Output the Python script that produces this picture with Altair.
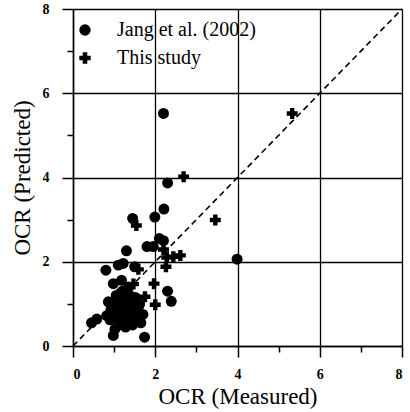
import altair as alt
import pandas as pd

series_names = ["Jang et al. (2002)", "This study"]

jang_x = [0.45, 0.58, 0.80, 0.82, 0.86, 0.90, 0.95, 0.98, 0.98, 1.00, 1.02, 1.05, 1.08, 1.10, 1.10,
          1.12, 1.15, 1.18, 1.20, 1.20, 1.22, 1.25, 1.25, 1.28, 1.30, 1.30, 1.32, 1.35, 1.35, 1.38,
          1.40, 1.42, 1.45, 1.45, 1.48, 1.50, 1.52, 1.55, 1.58, 1.62, 1.65, 1.70, 1.74, 1.80, 1.95,
          1.99, 2.10, 2.20, 2.20, 2.21, 2.30, 2.30, 2.39, 3.99, 1.60, 1.38, 1.15, 0.92]
jang_y = [0.55, 0.64, 1.80, 0.72, 1.05, 0.62, 1.00, 0.25, 1.48, 0.85, 0.40, 1.20, 0.70, 1.92, 1.05,
          0.50, 0.90, 1.56, 1.30, 0.65, 1.96, 1.10, 0.80, 0.45, 2.26, 1.00, 0.60, 1.40, 0.85, 1.20,
          0.70, 1.05, 3.03, 0.50, 0.90, 1.88, 1.15, 0.62, 0.80, 1.00, 0.55, 0.75, 0.21, 2.36, 2.36,
          3.06, 2.55, 2.50, 5.52, 3.25, 3.87, 1.30, 1.06, 2.06, 0.95, 0.98, 1.25, 0.85]

study_x = [5.33, 2.69, 3.46, 1.54, 2.20, 2.28, 2.44, 2.61, 2.26, 1.97, 2.00, 1.75, 1.47, 1.59]
study_y = [5.52, 4.02, 2.99, 2.86, 2.29, 2.10, 2.12, 2.15, 1.88, 1.48, 0.98, 1.17, 1.47, 1.82]

line_x = [0, 8]
line_y = [0, 8]

df = pd.DataFrame({
    "x": jang_x + study_x,
    "y": jang_y + study_y,
    "series": [series_names[0]] * len(jang_x) + [series_names[1]] * len(study_x),
})
df_line = pd.DataFrame({"x": line_x, "y": line_y})

FONT = "Liberation Serif"
even = "datum.value % 2 === 0"

def make_axis(title, label_pad, title_pad):
    return alt.Axis(
        values=list(range(0, 9)), title=title,
        labelExpr=f"{even} ? datum.label : ''",
        grid=True, gridColor="black", gridWidth=1.3,
        gridOpacity={"condition": {"test": even, "value": 1}, "value": 0},
        tickSize={"condition": {"test": even, "value": 11}, "value": 6},
        tickColor="black", tickWidth=1.5, domainColor="black", domainWidth=1.5,
        labelFont=FONT, labelFontSize=14, labelFontWeight="bold", labelColor="black",
        labelPadding=label_pad, titleFont=FONT, titleFontSize=23, titleFontWeight="normal",
        titleColor="black", titlePadding=title_pad,
    )

xs = alt.Scale(domain=[0, 8], nice=False, zero=False)
ys = alt.Scale(domain=[0, 8], nice=False, zero=False)

line = alt.Chart(df_line).mark_line(color="black", strokeWidth=1.6, strokeDash=[6, 4]).encode(
    x=alt.X("x:Q", scale=xs, axis=make_axis("OCR (Measured)", 10, 4)),
    y=alt.Y("y:Q", scale=ys, axis=make_axis("OCR (Predicted)", 13, 8)),
)

points = alt.Chart(df).mark_point(filled=True, opacity=1, color="black", size=120).encode(
    x=alt.X("x:Q", scale=xs),
    y=alt.Y("y:Q", scale=ys),
    shape=alt.Shape("series:N",
                    scale=alt.Scale(domain=series_names, range=["circle", "cross"]),
                    legend=alt.Legend(title=None, orient="none", legendX=2, legendY=11,
                                      labelFont=FONT, labelFontSize=20, labelColor="black",
                                      symbolFillColor="black", symbolStrokeColor="black",
                                      symbolOpacity=1,
                                      symbolSize=130, labelOffset=22, rowPadding=8)),
)

chart = alt.layer(line, points).properties(
    width=329, height=337,
    padding={"left": 73, "top": 9, "right": 8, "bottom": 66},
    autosize=alt.AutoSizeParams(type="none"),
).configure_view(stroke=None)

chart.save("out.html", embed_options={"renderer": "svg", "actions": False})
